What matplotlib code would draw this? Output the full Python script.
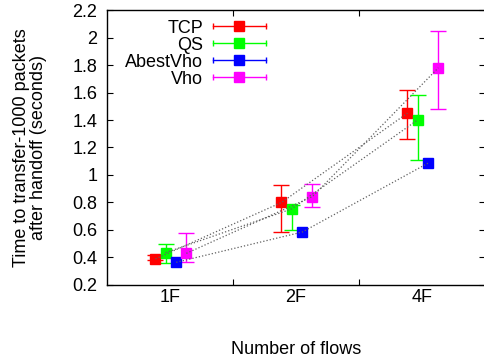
import numpy as np
import matplotlib
matplotlib.use('Agg')
import matplotlib.pyplot as plt
from matplotlib.lines import Line2D
from matplotlib.legend_handler import HandlerBase

plt.rcParams['font.family'] = ['Liberation Sans', 'DejaVu Sans']
plt.rcParams['font.size'] = 13

categories = ['1F', '2F', '4F']
series = ['TCP', 'QS', 'AbestVho', 'Vho']
colors = ['#ff0000', '#00ff00', '#0000ff', '#ff00ff']

# mean values
tcp = [0.39, 0.80, 1.45]
qs = [0.435, 0.753, 1.40]
abest = [0.365, 0.585, 1.087]
vho = [0.43, 0.842, 1.78]

# error bar low / high bounds
tcp_lo = [0.38, 0.588, 1.26]
tcp_hi = [0.42, 0.925, 1.62]
qs_lo = [0.362, 0.598, 1.11]
qs_hi = [0.496, 0.78, 1.58]
abest_lo = [0.365, 0.585, 1.087]
abest_hi = [0.365, 0.585, 1.087]
vho_lo = [0.37, 0.767, 1.48]
vho_hi = [0.576, 0.937, 2.05]

values = [tcp, qs, abest, vho]
lows = [tcp_lo, qs_lo, abest_lo, vho_lo]
highs = [tcp_hi, qs_hi, abest_hi, vho_hi]
offsets = [-0.115, -0.035, 0.05, 0.13]


class HandlerCapLine(HandlerBase):
    def create_artists(self, legend, orig_handle, xdescent, ydescent,
                       width, height, fontsize, trans):
        c = orig_handle.get_color()
        y = height / 2 - ydescent
        x0, x1 = -xdescent, width - xdescent
        line = Line2D([x0, x1], [y, y], color=c, lw=1, transform=trans)
        caps = Line2D([x0, x1], [y, y], ls='none', marker='|', ms=4, mew=1,
                      color=c, transform=trans)
        mk = Line2D([(x0 + x1) / 2], [y], ls='none', marker='s', ms=7.5,
                    color=c, transform=trans)
        return [line, caps, mk]


fig = plt.figure(figsize=(4.84, 3.58), dpi=100)
ax = fig.add_axes([0.221, 0.204, 0.781, 0.768])

x = np.arange(1, len(categories) + 1)
handles = []
for name, c, v, lo, hi, off in zip(series, colors, values, lows, highs, offsets):
    xs = x + off
    v = np.array(v)
    lo = np.array(lo)
    hi = np.array(hi)
    has_err = (hi - lo) > 0
    if has_err.any():
        yerr = [(v - lo)[has_err], (hi - v)[has_err]]
        ax.errorbar(xs[has_err], v[has_err], yerr=yerr, fmt='none', ecolor=c,
                    elinewidth=1, capsize=6, capthick=1, zorder=2)
    ax.plot(xs, v, ls='none', marker='s', ms=7.5, color=c, zorder=3)
    ax.plot(xs, v, ls=':', lw=0.9, color='#606060', zorder=4)
    handles.append(Line2D([], [], color=c, label=name))

ax.set_xlim(0.5, 3.5)
ax.set_ylim(0.2, 2.2)
ax.set_xticks([1.5, 2.5])
ax.set_xticklabels([])
ax.set_xticks(x, minor=True)
ax.set_xticklabels(categories, minor=True)
ax.tick_params(axis='x', which='minor', length=0, pad=3)
yt = np.arange(0.2, 2.21, 0.2)
ax.set_yticks(yt)
ax.set_yticklabels(['%g' % round(t, 1) for t in yt])
ax.tick_params(which='major', direction='in', length=4, top=True, right=True)
ax.tick_params(axis='y', pad=7)
for s in ax.spines.values():
    s.set_linewidth(1)

ax.set_xlabel('Number of flows', labelpad=25)
ax.set_ylabel('Time to transfer-1000 packets\nafter handoff (seconds)',
              labelpad=18, linespacing=1.0)

ax.legend(handles=handles, handler_map={Line2D: HandlerCapLine()},
          loc='upper right', bbox_to_anchor=(0.434, 0.985), frameon=False,
          markerfirst=False, handlelength=2.9, handletextpad=0.55,
          labelspacing=0.0, borderaxespad=0.1, borderpad=0.2)

fig.savefig('out.png', dpi=100)
